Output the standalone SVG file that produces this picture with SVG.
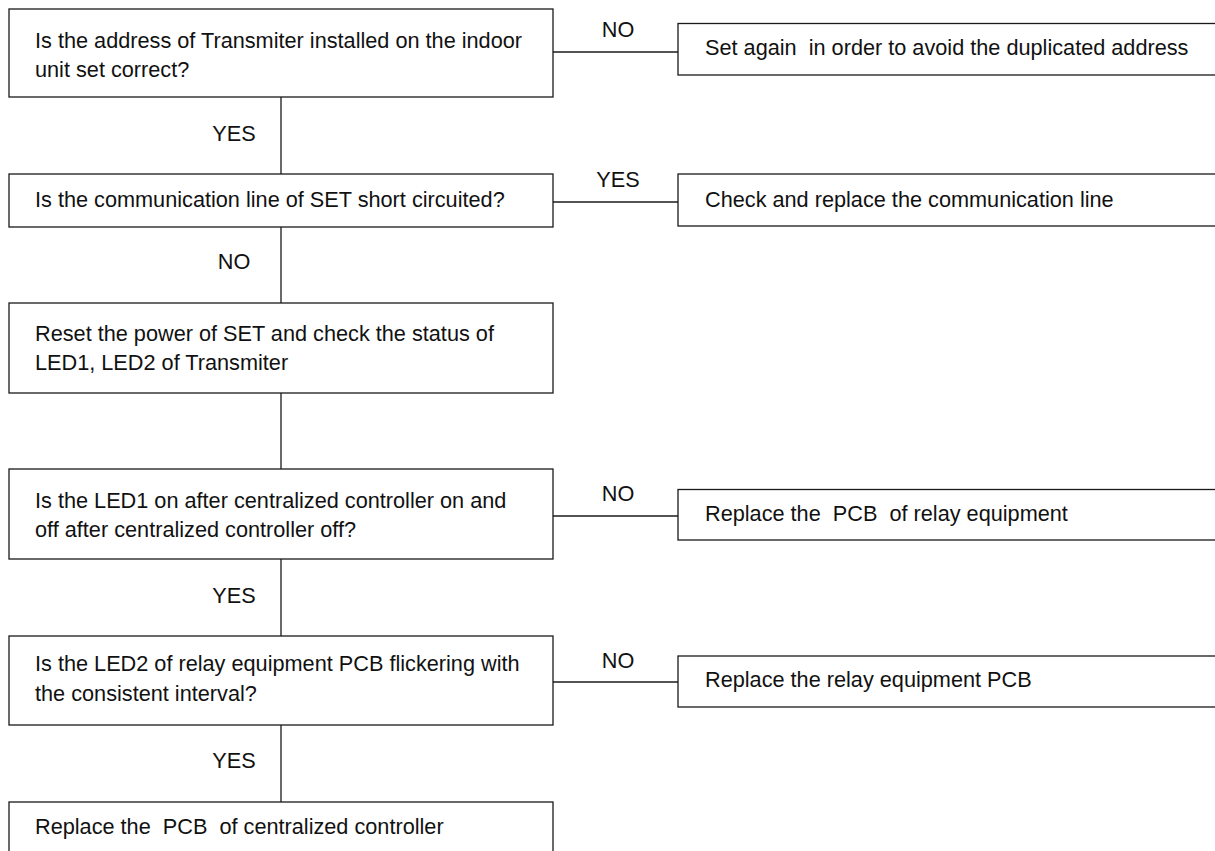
<svg xmlns="http://www.w3.org/2000/svg" width="1215" height="851" viewBox="0 0 1215 851">
<style>
  .box { fill: #ffffff; stroke: #1a1a1a; stroke-width: 1.3; }
  .ln { stroke: #1a1a1a; stroke-width: 1.3; fill: none; }
  text { font-family: "Liberation Sans", Arial, sans-serif; font-size: 21.7px; fill: #111111; }
  .lbl { text-anchor: middle; }
</style>
<rect width="1215" height="851" fill="#ffffff"/>
<g id="connectors">
  <line class="ln" x1="281" y1="97" x2="281" y2="174"/>
  <line class="ln" x1="281" y1="227" x2="281" y2="303"/>
  <line class="ln" x1="281" y1="393" x2="281" y2="469"/>
  <line class="ln" x1="281" y1="559" x2="281" y2="636"/>
  <line class="ln" x1="281" y1="725" x2="281" y2="802"/>
  <line class="ln" x1="553" y1="52" x2="678" y2="52"/>
  <line class="ln" x1="553" y1="202" x2="678" y2="202"/>
  <line class="ln" x1="553" y1="516" x2="678" y2="516"/>
  <line class="ln" x1="553" y1="682" x2="678" y2="682"/>
  <text class="lbl" x="618" y="37">NO</text>
  <text class="lbl" x="234" y="141">YES</text>
  <text class="lbl" x="618" y="187">YES</text>
  <text class="lbl" x="234" y="269">NO</text>
  <text class="lbl" x="618" y="501">NO</text>
  <text class="lbl" x="234" y="603">YES</text>
  <text class="lbl" x="618" y="668">NO</text>
  <text class="lbl" x="234" y="768">YES</text>
</g>
<g id="q1">
  <rect class="box" x="9" y="9" width="544" height="88"/>
  <text x="35" y="48">Is the address of Transmiter installed on the indoor</text>
  <text x="35" y="77">unit set correct?</text>
</g>
<g id="a1">
  <rect class="box" x="678" y="23.5" width="545" height="51.5"/>
  <text x="705" y="55" xml:space="preserve">Set again  in order to avoid the duplicated address</text>
</g>
<g id="q2">
  <rect class="box" x="9" y="174" width="544" height="53"/>
  <text x="35" y="207">Is the communication line of SET short circuited?</text>
</g>
<g id="a2">
  <rect class="box" x="678" y="174" width="545" height="52"/>
  <text x="705" y="207">Check and replace the communication line</text>
</g>
<g id="s3">
  <rect class="box" x="9" y="303" width="544" height="90"/>
  <text x="35" y="341">Reset the power of SET and check the status of</text>
  <text x="35" y="369.5">LED1, LED2 of Transmiter</text>
</g>
<g id="q4">
  <rect class="box" x="9" y="469" width="544" height="90"/>
  <text x="35" y="507.5">Is the LED1 on after centralized controller on and</text>
  <text x="35" y="536.5">off after centralized controller off?</text>
</g>
<g id="a4">
  <rect class="box" x="678" y="489.5" width="545" height="50.5"/>
  <text x="705" y="521" xml:space="preserve">Replace the  PCB  of relay equipment</text>
</g>
<g id="q5">
  <rect class="box" x="9" y="636" width="544" height="89"/>
  <text x="35" y="671">Is the LED2 of relay equipment PCB flickering with</text>
  <text x="35" y="700.5">the consistent interval?</text>
</g>
<g id="a5">
  <rect class="box" x="678" y="656" width="545" height="51"/>
  <text x="705" y="687">Replace the relay equipment PCB</text>
</g>
<g id="s6">
  <rect class="box" x="9" y="802" width="544" height="60"/>
  <text x="35" y="834" xml:space="preserve">Replace the  PCB  of centralized controller</text>
</g>
</svg>
